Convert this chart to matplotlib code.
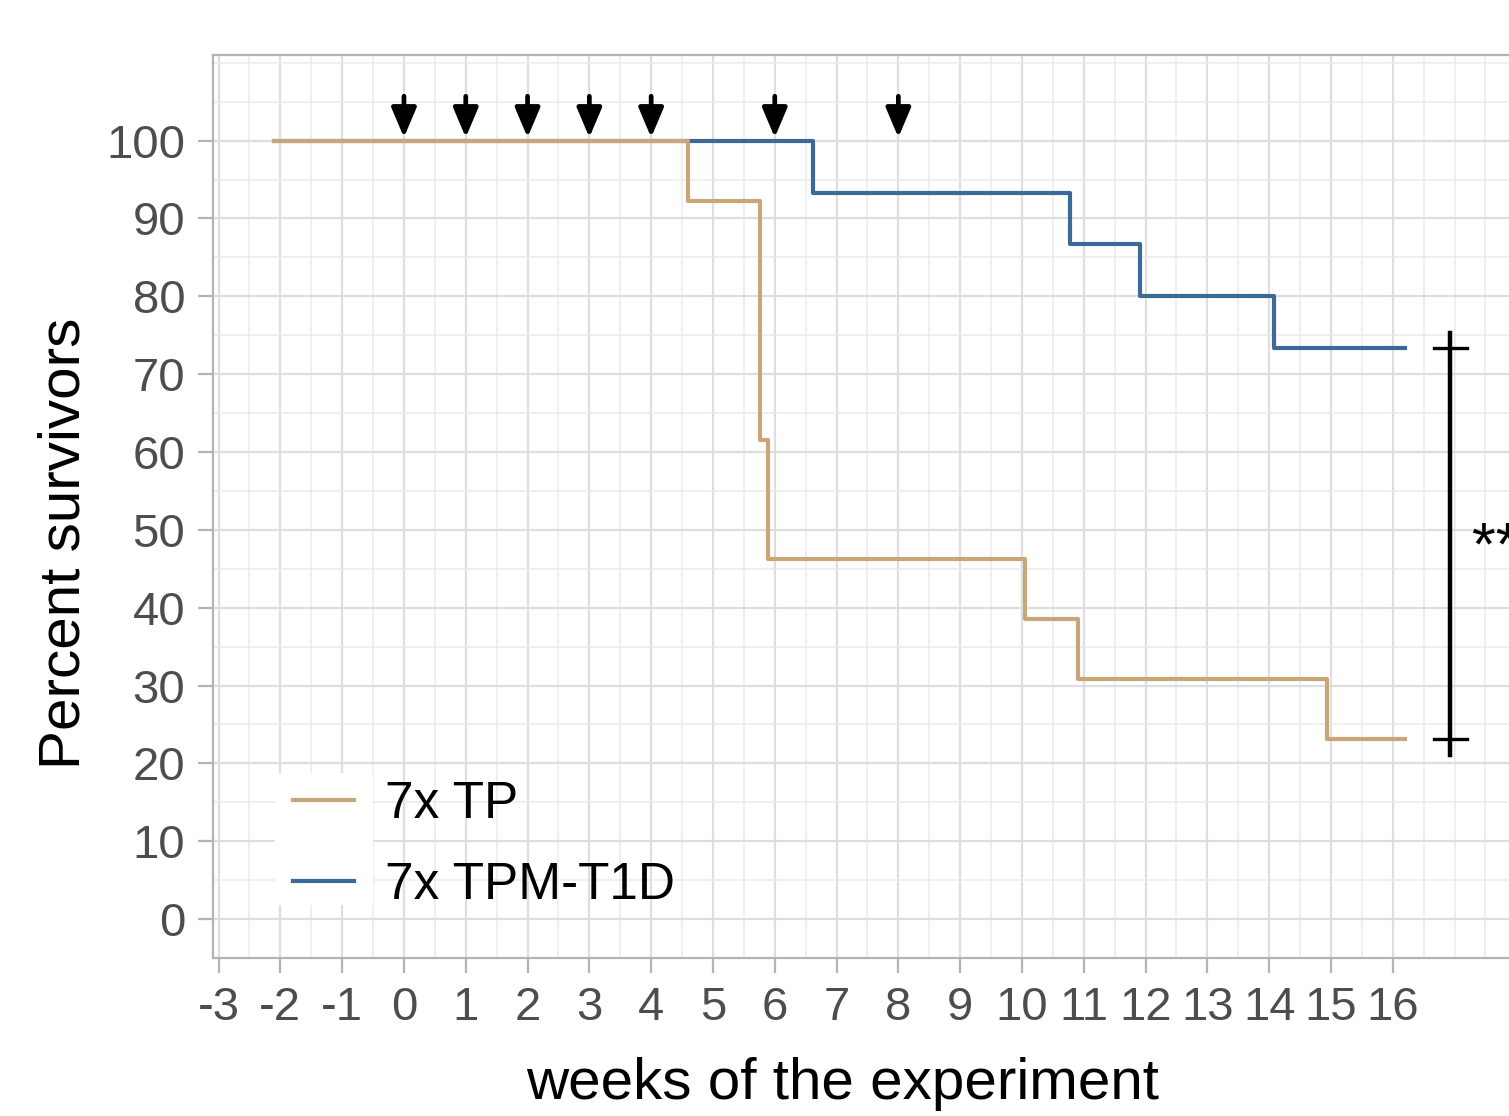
import numpy as np
import matplotlib.pyplot as plt
from matplotlib.patches import Rectangle
from matplotlib.ticker import FixedLocator

plt.rcParams['font.family'] = ['Liberation Sans', 'DejaVu Sans']

# Kaplan-Meier step data (weeks, percent survivors)
tp_weeks = [-2.1, 4.6, 5.76, 5.89, 10.05, 10.9, 14.94, 16.2]
tp_surv = [100.0, 92.3, 61.5, 46.2, 38.5, 30.8, 23.1, 23.1]
t1d_weeks = [-2.1, 6.62, 10.78, 11.91, 14.08, 16.2]
t1d_surv = [100.0, 93.3, 86.7, 80.0, 73.3, 73.3]
labels = ['7x TP', '7x TPM-T1D']
colors = ['#C9A679', '#3B6A96']

# immunisation time points (arrows)
dose_weeks = [0, 1, 2, 3, 4, 6, 8]

# significance bracket
sig_x = 16.93
sig_low, sig_high = 23.1, 73.3
sig_text = '**'

W, H = 1509, 1116
fig = plt.figure(figsize=(W / 100, H / 100), dpi=100)

xmin, xmax = -3.09, 18.6
px_per_week = 61.8
left, top, bottom = 213, 55, 958
panel_w = (xmax - xmin) * px_per_week
ax = fig.add_axes([left / W, (H - bottom) / H, panel_w / W, (bottom - top) / H])
ax.set_xlim(xmin, xmax)
ax.set_ylim(-5, 111)

# grid
major_x = list(range(-3, 17))
ax.set_xticks(major_x)
ax.set_xticklabels([str(v) for v in major_x])
ax.xaxis.set_minor_locator(FixedLocator(
    [v for v in np.arange(-3, 18.6, 0.5) if v not in major_x]))
ax.set_yticks(range(0, 101, 10))
ax.yaxis.set_minor_locator(FixedLocator(np.arange(-5, 111, 5)))
ax.grid(which='major', color='#DEDEDE', lw=1.6, zorder=0)
ax.grid(which='minor', color='#EBEBEB', lw=1.1, zorder=0)
ax.set_axisbelow(True)

for s in ax.spines.values():
    s.set_color('#B3B3B3')
    s.set_linewidth(1.6)

ax.tick_params(which='major', length=11, width=1.6, color='#B3B3B3',
               labelsize=34, labelcolor='#4D4D4D', pad=9)
ax.tick_params(which='minor', length=0)

# curves (TP drawn on top)
ax.step(t1d_weeks, t1d_surv, where='post', color=colors[1], lw=3.0,
        label=labels[1], zorder=3)
ax.step(tp_weeks, tp_surv, where='post', color=colors[0], lw=3.0,
        label=labels[0], zorder=4)

# arrows
for w in dose_weeks:
    ax.annotate('', xy=(w, 100.4), xytext=(w, 105.7),
                arrowprops=dict(arrowstyle='-|>,head_width=0.38,head_length=0.9',
                                mutation_scale=20, lw=3.4, color='black',
                                shrinkA=0, shrinkB=0), zorder=5)

# significance bracket
ax.plot([sig_x, sig_x], [sig_low - 2.0, sig_high + 2.0], color='black', lw=3.2, zorder=5)
for yv in (sig_low, sig_high):
    ax.plot([sig_x - 0.27, sig_x + 0.27], [yv, yv], color='black', lw=2.4, zorder=5)
ax.text(sig_x + 0.35, 45.6, sig_text, fontsize=44, ha='left', va='baseline', zorder=5)

# legend key background (white boxes like ggplot keys)
ax.add_patch(Rectangle((-2.09, 1.8), 1.59, 17.0, facecolor='white',
                       edgecolor='none', zorder=1))
handles, labs = ax.get_legend_handles_labels()
leg = ax.legend(handles[::-1], labs[::-1], loc='lower left',
                bbox_to_anchor=(0.025, 0.002), frameon=False, fontsize=37,
                handlelength=1.2, handletextpad=0.6, labelspacing=0.63)
for ln in leg.get_lines():
    ln.set_linewidth(3.0)

ax.set_xlabel('weeks of the experiment', fontsize=42, color='black')
ax.set_ylabel('Percent survivors', fontsize=42, color='black')
ax.xaxis.set_label_coords((843 - left) / panel_w, (bottom - 1057) / (bottom - top))
ax.yaxis.set_label_coords((92 - left) / panel_w, (bottom - 543) / (bottom - top))

fig.savefig('out.png', dpi=100)
